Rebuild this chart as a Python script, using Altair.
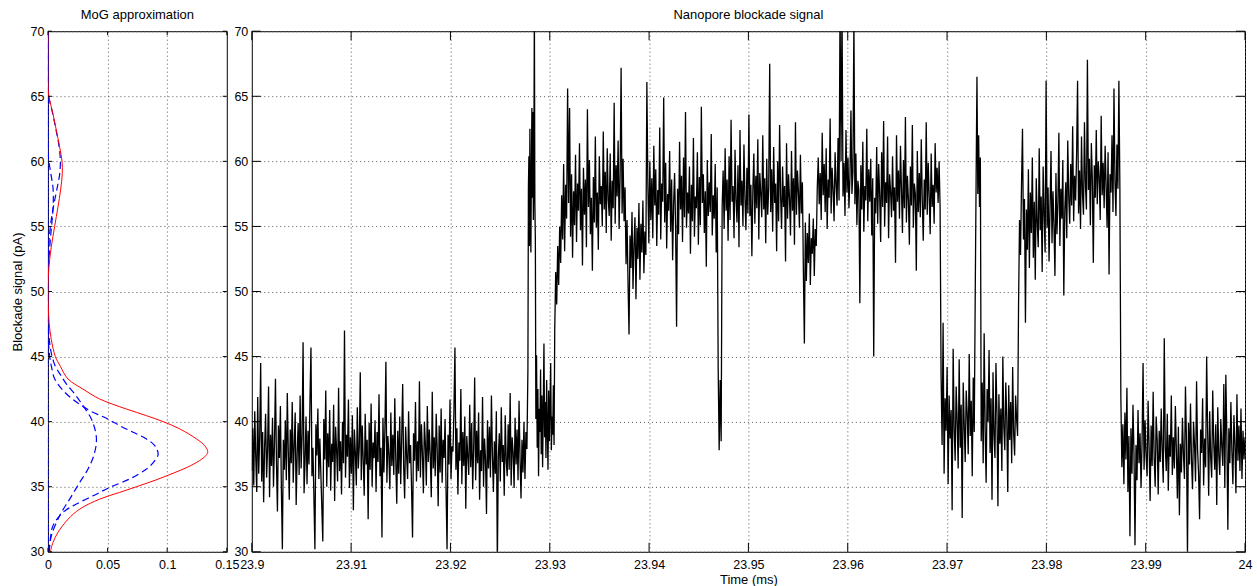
import altair as alt
import numpy as np
import pandas as pd

FONT = "Liberation Sans"

# ---------------- MoG approximation panel (density vs blockade value) ----------------
mix_y = [30, 30.72, 31.49, 32.5, 33.28, 34.05, 34.56, 35.0, 35.5, 36.0, 36.5, 37.0, 37.4, 37.69,
         38.15, 38.67, 39.44, 40.0, 40.46, 40.97, 41.74, 42.5, 43.28, 44.25, 45.0, 46.3, 47.6,
         48.8, 50.4, 51.9, 53.44, 55.0, 56.5, 57.8, 59.05, 60.0, 61.1, 62.4, 63.65, 65.0, 66.0, 70.0]
mix_d = [0.002, 0.0042, 0.0084, 0.0168, 0.0266, 0.0434, 0.060, 0.0742, 0.090, 0.104, 0.117, 0.127,
         0.1325, 0.134, 0.1315, 0.1246, 0.1106, 0.0966, 0.0826, 0.0658, 0.0434, 0.0294, 0.0168,
         0.0104, 0.0062, 0.0028, 0.001, 0.0003, 0.0, 0.0008, 0.0028, 0.0056, 0.0084, 0.0106, 0.012,
         0.0118, 0.0098, 0.007, 0.0042, 0.0008, 0.0, 0.0]

comp1_y = [30, 31.0, 32.0, 33.03, 33.67, 34.3, 34.95, 35.6, 36.36, 37.0, 37.5, 38.15, 38.67, 39.18,
           39.7, 40.26, 40.85, 41.6, 42.4, 43.3, 44.2, 45.0, 46.3, 47.5, 70]
comp1_d = [0.0008, 0.002, 0.0042, 0.0126, 0.0238, 0.0378, 0.0518, 0.0686, 0.0826, 0.0896, 0.0924,
           0.0896, 0.0826, 0.0714, 0.060, 0.049, 0.035, 0.0224, 0.0126, 0.0056, 0.003, 0.0015,
           0.0003, 0.0, 0.0]

comp2_y = [30, 31.2, 32.77, 34.05, 35.33, 36.36, 37.38, 38.4, 39.18, 40.2, 41.23, 42.13, 42.9, 43.6,
           44.25, 45.27, 46.3, 47.56, 48.5, 70]
comp2_d = [0.001, 0.0028, 0.0098, 0.0182, 0.0266, 0.0336, 0.0384, 0.0406, 0.040, 0.0364, 0.0294,
           0.0224, 0.0154, 0.0105, 0.0062, 0.0028, 0.0011, 0.0003, 0.0, 0.0]

# upper components listed from the top (70) downwards
comp3_y = [70, 66, 65, 63.65, 62.4, 61.1, 60, 59, 58, 57, 56, 55, 53.5, 52, 30]
comp3_d = [0.0, 0.0, 0.0006, 0.004, 0.0068, 0.0094, 0.0104, 0.0098, 0.0078, 0.0056, 0.0036, 0.002,
           0.0006, 0.0, 0.0]

comp4_y = [70, 61, 60, 59, 58, 57, 56, 55, 54, 53, 52, 51, 30]
comp4_d = [0.0, 0.0, 0.0008, 0.0025, 0.0042, 0.0045, 0.004, 0.003, 0.002, 0.0012, 0.0005, 0.0, 0.0]

# ---------------- Nanopore blockade signal (time in ms, value in pA) ----------------
seg_bounds = [23.9000, 23.9278, 23.9286, 23.9305, 23.9694, 23.97284, 23.97344, 23.9772, 23.9875, 24.0]

sig_a = [36.2, 39.5, 35.1, 40.8, 37.3, 34.6, 41.9, 36.0, 38.8, 44.5, 35.4, 39.2, 33.8, 38.1, 40.6, 35.7, 37.9, 42.7, 34.2, 39.0,
         36.6, 40.3, 35.0, 38.4, 43.3, 36.9, 33.1, 39.7, 37.2, 41.2, 34.8, 30.2, 38.6, 36.3, 40.1, 35.5, 42.2, 37.7, 34.0, 39.4,
         36.8, 41.5, 35.3, 38.2, 40.7, 33.6, 37.5, 39.9, 35.9, 42.0, 36.4, 38.9, 46.1, 34.5, 37.0, 40.4, 35.2, 39.3, 36.7, 41.6,
         45.7, 35.8, 38.0, 34.1, 30.2, 39.8, 37.4, 41.0, 35.6, 38.7, 36.1, 33.4, 30.8, 40.2, 37.1, 42.4, 35.0, 39.1, 36.5, 40.9,
         34.7, 38.3, 36.9, 41.3, 33.9, 39.6, 37.8, 35.4, 42.6, 36.2, 38.5, 34.4, 40.0, 36.8, 47.0, 35.7, 39.0, 37.3, 41.7, 34.9,
         38.8, 36.0, 40.5, 33.2, 39.4, 37.6, 35.1, 41.1, 36.4, 38.1, 43.8, 35.5, 39.7, 37.0, 34.3, 40.6, 36.7, 38.6, 32.5, 39.9,
         36.3, 41.4, 35.0, 38.4, 37.2, 40.1, 34.6, 39.2, 36.9, 42.1, 35.8, 38.0, 31.1, 40.3, 36.1, 39.5, 44.6, 35.3, 38.9, 37.5,
         34.8, 40.7, 36.6, 39.0, 35.9, 41.8, 37.1, 33.7, 39.3, 36.0, 40.4, 35.2, 38.7, 42.9, 36.5, 34.1, 39.6, 37.4, 35.6, 40.8,
         36.8, 38.2, 34.9, 31.1, 39.1, 37.0, 41.5, 35.4, 38.5, 36.2, 43.1, 35.7, 39.8, 37.6, 34.5, 40.0, 38.3, 35.1, 41.2, 36.9,
         39.4, 37.3, 34.2, 42.3, 36.4, 38.8, 35.8, 40.6, 37.9, 33.5, 39.7, 36.1, 41.0, 35.3, 38.6, 37.2, 40.2, 34.7, 30.2, 39.0,
         36.7, 41.7, 35.6, 38.1, 37.7, 40.9, 45.7, 36.3, 39.5, 34.4, 38.4, 37.0, 42.5, 35.2, 39.2, 36.6, 40.4, 33.3, 38.9, 37.4,
         35.9, 41.3, 36.5, 39.9, 34.8, 38.0, 43.4, 35.5, 39.3, 36.8, 40.7, 34.0, 37.8, 36.2, 41.9, 35.0, 38.7, 37.1, 32.9, 40.1,
         36.4, 39.6, 35.7, 42.0, 37.5, 34.6, 38.5, 36.0, 40.8, 29.0, 37.3, 39.1, 35.4, 41.1, 36.9, 38.2, 34.3, 40.5, 37.0, 35.8,
         39.8, 36.3, 42.2, 35.1, 38.8, 37.6, 34.9, 40.3, 36.7, 39.4, 35.5, 41.6, 37.2, 34.1, 38.6, 36.1, 40.0, 35.6, 39.2, 37.9]
sig_a_burst = [44.0, 58.0, 60.4, 53.5, 62.5, 56.0, 53.0, 59.5, 64.1, 57.2, 63.8, 55.5, 60.0, 72.0, 56.8, 54.0]
sig_a2 = [40.2, 45.1, 38.0, 42.5, 35.8, 41.0, 39.2, 44.0, 37.5, 42.0, 36.5, 40.8, 46.0, 38.8,
          41.5, 37.2, 43.2, 39.6, 36.3, 42.4, 38.5, 41.2, 44.5, 37.8, 40.4, 39.0, 42.8, 38.2]
sig_b = [47.0, 51.5, 49.0, 53.5, 50.5, 55.0, 52.2, 57.4, 54.0, 59.8, 53.1, 58.2, 55.6, 65.6, 56.8, 64.1, 54.2, 59.0, 52.6, 57.7,
         55.1, 60.5, 53.8, 58.3, 56.2, 61.4, 54.7, 57.9, 52.0, 59.5, 55.9, 58.6, 53.4, 64.0, 56.5, 60.1, 54.4, 57.2, 51.6, 58.8,
         55.3, 61.9, 54.9, 57.6, 53.2, 60.4, 56.7, 58.1, 55.0, 62.3, 56.3, 59.2, 54.5, 61.0, 57.1, 55.8, 60.6, 53.9, 58.5, 56.4,
         64.5, 55.2, 59.7, 57.3, 61.6, 54.8, 58.9, 67.2, 56.0, 60.2, 55.4, 58.0, 52.1, 55.5, 50.6, 46.7, 54.3, 51.8, 56.1, 50.2,
         53.6, 55.7, 49.4, 54.9, 52.5, 56.8, 50.9, 55.2, 53.0, 57.0, 51.4, 54.6, 52.8, 66.1, 58.4, 53.7, 60.0, 55.5, 58.7, 54.1,
         61.2, 56.6, 59.4, 53.5, 57.8, 55.9, 62.6, 54.0, 58.3, 56.9, 64.9, 55.3, 59.9, 53.3, 57.5, 56.2, 60.8, 54.6, 58.6, 52.4,
         56.7, 59.1, 55.0, 47.3, 57.9, 54.4, 61.5, 56.3, 58.9, 53.8, 60.3, 55.7, 63.8, 54.9, 57.6, 56.0, 59.6, 52.9, 58.2, 55.4,
         61.8, 54.2, 57.3, 56.4, 60.7, 53.6, 58.8, 55.1, 64.2, 56.8, 59.0, 54.5, 57.7, 51.9, 60.1, 55.8, 58.4, 56.1, 62.1, 54.3,
         57.4, 55.6, 59.8, 53.0, 58.0, 44.0, 37.8, 43.2, 38.5, 56.5, 59.3, 54.8, 61.0, 56.2, 58.6, 53.9, 60.4, 55.5, 63.2, 56.9,
         58.1, 54.1, 60.9, 57.0, 55.3, 59.7, 53.4, 62.4, 56.6, 58.5, 55.0, 61.3, 57.2, 54.7, 59.5, 56.0, 63.6, 55.8, 58.2, 52.7,
         57.8, 60.6, 55.2, 58.9, 56.4, 61.7, 54.0, 59.1, 57.5, 55.7, 62.0, 56.3, 58.7, 53.7, 60.2, 55.9, 58.0, 67.5, 56.1, 59.4,
         54.6, 61.1, 56.8, 58.3, 53.1, 60.0, 55.4, 62.8, 57.3, 54.8, 59.6, 56.5, 58.1, 52.3, 61.4, 55.6, 59.0, 57.1, 54.3, 60.8,
         56.2, 58.7, 53.6, 63.0, 55.9, 59.3, 57.6, 54.9, 60.5, 56.0, 58.4, 51.5, 46.0, 55.3, 50.8, 54.5, 52.2, 56.0, 50.5, 54.1,
         52.9, 55.6, 51.2, 54.8, 53.5, 57.9, 60.3, 56.7, 59.1, 55.5, 62.2, 57.4, 59.8, 56.1, 61.0, 54.8, 58.6, 57.2, 63.3, 56.0,
         59.5, 57.8, 55.4, 60.7, 58.3, 56.6, 61.8, 57.0, 72.0, 60.0, 72.0, 57.3, 59.9, 55.8, 62.4, 57.6, 60.3, 56.4, 58.8, 63.9,
         57.5, 59.2, 71.0, 56.7, 60.6, 55.1, 58.5, 57.8, 49.1, 59.7, 56.3, 61.5, 54.6, 58.1, 57.0, 62.5, 55.4, 59.4, 56.9, 60.2,
         54.3, 58.7, 45.0, 57.2, 56.0, 61.1, 55.2, 59.8, 57.4, 53.8, 60.7, 56.5, 63.1, 55.0, 58.4, 56.8, 61.9, 54.1, 59.0, 57.7,
         55.7, 60.4, 56.2, 58.0, 52.2, 62.0, 56.9, 59.3, 55.6, 61.2, 57.9, 54.5, 60.1, 56.4, 63.4, 55.3, 58.9, 57.1, 53.6, 59.6,
         56.6, 62.8, 54.9, 58.3, 57.5, 51.6, 60.8, 56.1, 59.1, 55.7, 61.7, 57.0, 53.9, 58.6, 56.3, 63.0, 55.9, 59.9, 57.3, 54.4,
         60.6, 56.5, 58.2, 55.2, 61.4, 57.6, 59.5, 56.8, 60.0, 56.5]
sig_c = [43.5, 38.2, 47.6, 36.0, 41.8, 39.3, 44.2, 35.2, 42.0, 38.7, 40.9, 33.2, 45.6, 39.5, 37.0, 42.7, 40.1,
         36.4, 44.8, 38.0, 41.3, 32.6, 43.0, 39.8, 36.9, 42.4, 40.6, 37.5, 45.2, 38.9, 41.6, 35.8, 43.4, 39.2]
sig_c_burst = [50.0, 58.5, 66.5, 57.5, 62.0, 56.5, 60.3]
sig_c2 = [38.5, 43.0, 36.8, 46.8, 39.4, 35.3, 42.5, 40.0, 45.5, 37.6, 41.8, 34.0, 43.8, 39.0, 37.2, 44.5, 40.7, 33.5, 42.1,
          38.3, 41.0, 36.2, 45.0, 39.6, 37.8, 43.0, 40.3, 34.6, 42.8, 38.6, 41.5, 36.8, 44.2, 39.1, 37.4, 42.0, 40.2, 38.9]
sig_d = [49.0, 55.5, 52.8, 58.2, 62.5, 54.0, 57.1, 47.6, 56.3, 53.2, 59.4, 51.8, 57.6, 54.5, 60.3, 52.6, 56.9, 50.9, 58.7, 55.2,
         53.4, 61.0, 54.7, 57.3, 51.5, 59.6, 55.8, 53.0, 66.2, 54.9, 58.0, 52.3, 56.5, 60.8, 53.7, 57.7, 55.0, 51.2, 59.1, 54.4,
         56.8, 62.2, 53.5, 57.9, 55.6, 60.1, 49.7, 56.2, 58.4, 54.1, 61.6, 57.3, 55.2, 59.8, 56.6, 62.7, 55.4, 58.9, 57.0, 60.5,
         66.2, 56.0, 59.3, 54.8, 61.9, 57.5, 55.9, 63.0, 58.1, 56.3, 67.8, 57.8, 60.2, 55.1, 61.4, 58.6, 52.2, 59.7, 57.2, 62.4,
         56.7, 60.0, 58.8, 55.5, 63.5, 57.4, 59.9, 56.4, 61.2, 58.2, 54.9, 60.7, 51.3, 59.0, 57.6, 62.0, 56.1, 65.6, 58.5, 55.8,
         61.3, 57.9, 66.2, 58.0]
sig_e = [41.9, 36.5, 39.8, 35.2, 40.7, 37.1, 42.6, 34.6, 38.9, 31.2, 39.5, 36.0, 41.3, 37.6, 30.5, 38.2, 35.5, 40.9, 36.8, 39.1,
         34.9, 38.4, 44.5, 36.3, 40.1, 37.4, 35.8, 41.6, 38.0, 33.9, 39.7, 36.6, 42.3, 37.2, 35.0, 40.4, 38.6, 34.4, 39.3, 36.9,
         41.0, 37.7, 35.3, 46.4, 38.1, 36.2, 40.6, 34.7, 39.0, 37.3, 42.0, 35.9, 38.8, 36.4, 41.2, 37.8, 34.1, 39.6, 32.8, 38.3,
         36.1, 40.3, 37.5, 35.6, 42.7, 38.5, 29.8, 39.9, 36.7, 41.4, 37.0, 34.8, 40.0, 38.2, 35.4, 43.1, 37.9, 36.0, 32.5, 39.4,
         37.6, 41.8, 35.1, 38.7, 36.5, 45.0, 39.2, 34.3, 40.8, 37.2, 35.7, 42.4, 38.4, 36.3, 39.8, 33.6, 41.1, 37.4, 35.9, 40.2,
         38.1, 36.6, 42.9, 34.9, 43.6, 38.9, 31.7, 39.5, 36.8, 41.5, 37.7, 35.2, 40.5, 38.3, 34.5, 42.1, 37.0, 39.7, 36.2, 41.0,
         35.6, 39.3, 37.1, 38.8]

segments = [sig_a, sig_a_burst, sig_a2, sig_b, sig_c, sig_c_burst, sig_c2, sig_d, sig_e]

x_ticks_mog = [0, 0.05, 0.1, 0.15]
x_ticks_sig = [23.9, 23.91, 23.92, 23.93, 23.94, 23.95, 23.96, 23.97, 23.98, 23.99, 24.0]
y_ticks = [30, 35, 40, 45, 50, 55, 60, 65, 70]

# ---------------- build tables ----------------
t_all, v_all = [], []
for k, vals in enumerate(segments):
    t0, t1 = seg_bounds[k], seg_bounds[k + 1]
    last = k == len(segments) - 1
    ts = np.linspace(t0, t1, len(vals), endpoint=last)
    t_all.extend(ts.tolist())
    v_all.extend(vals)
sig_df = pd.DataFrame({"t": t_all, "v": v_all})

mix_df = pd.DataFrame({"d": mix_d, "v": mix_y, "i": range(len(mix_y))})
comp_rows = []
for name, ys, ds in [("c1", comp1_y, comp1_d), ("c2", comp2_y, comp2_d),
                     ("c3", comp3_y, comp3_d), ("c4", comp4_y, comp4_d)]:
    for i, (yy, dd) in enumerate(zip(ys, ds)):
        comp_rows.append({"comp": name, "v": yy, "d": dd, "i": i})
comp_df = pd.DataFrame(comp_rows)

LW, RW, H = 179, 994, 521

y_scale = alt.Scale(domain=[30, 70], nice=False, zero=False)
mog_x_scale = alt.Scale(domain=[0, 0.15], nice=False, zero=False)
sig_x_scale = alt.Scale(domain=[23.9, 24.0], nice=False, zero=False)


def tick_layers(xfield, xvals, width, tick_len):
    xt = pd.DataFrame({xfield: xvals})
    yt = pd.DataFrame({"v": y_ticks})
    base_x = alt.Chart(xt).mark_rule(color="black", strokeWidth=1)
    base_y = alt.Chart(yt).mark_rule(color="black", strokeWidth=1)
    return [
        base_x.encode(x=alt.X(f"{xfield}:Q"), y=alt.value(H), y2=alt.value(H - tick_len)),
        base_x.encode(x=alt.X(f"{xfield}:Q"), y=alt.value(0), y2=alt.value(tick_len)),
        base_y.encode(y=alt.Y("v:Q"), x=alt.value(0), x2=alt.value(tick_len)),
        base_y.encode(y=alt.Y("v:Q"), x=alt.value(width), x2=alt.value(width - tick_len)),
    ]


red = alt.Chart(mix_df).mark_line(color="#ff0000", strokeWidth=1, interpolate="catmull-rom", clip=True).encode(
    x=alt.X("d:Q", scale=mog_x_scale,
            axis=alt.Axis(values=x_ticks_mog, format="~g", title=None, labelPadding=7)),
    y=alt.Y("v:Q", scale=y_scale,
            axis=alt.Axis(values=y_ticks, format="~g", title="Blockade signal (pA)", titlePadding=6)),
    order=alt.Order("i:Q"),
)
blue = alt.Chart(comp_df).mark_line(color="#0000ff", strokeWidth=1.2, strokeDash=[7, 4],
                                    interpolate="catmull-rom", clip=True).encode(
    x=alt.X("d:Q", scale=mog_x_scale),
    y=alt.Y("v:Q", scale=y_scale),
    detail="comp:N",
    order=alt.Order("i:Q"),
)
left = alt.layer(blue, red, *tick_layers("d", x_ticks_mog, LW, 4)).properties(
    width=LW, height=H, title="MoG approximation")

signal = alt.Chart(sig_df).mark_line(color="black", strokeWidth=1.3, clip=True).encode(
    x=alt.X("t:Q", scale=sig_x_scale,
            axis=alt.Axis(values=x_ticks_sig, format="~g", title="Time (ms)", labelPadding=7, titlePadding=2)),
    y=alt.Y("v:Q", scale=y_scale, axis=alt.Axis(values=y_ticks, format="~g", title=None)),
)
right = alt.layer(signal, *tick_layers("t", x_ticks_sig, RW, 9)).properties(
    width=RW, height=H, title="Nanopore blockade signal")

chart = alt.hconcat(left, right, spacing=25, bounds="flush").properties(
    padding={"left": 10, "top": 8, "right": 4, "bottom": 0}
).configure_axis(
    labelFont=FONT, labelFontSize=12.5, labelColor="black",
    titleFont=FONT, titleFontSize=13, titleFontWeight="normal", titleColor="black",
    grid=True, gridColor="#555555", gridDash=[1, 3], gridWidth=1,
    ticks=False, tickSize=0, domain=False, labelPadding=4,
    labelFlush=False, labelOverlap=False,
).configure_view(stroke="black", strokeWidth=1).configure_title(
    font=FONT, fontSize=13, fontWeight="normal", color="black", offset=3
)

chart.save("out.html", embed_options={"renderer": "svg", "actions": False})
